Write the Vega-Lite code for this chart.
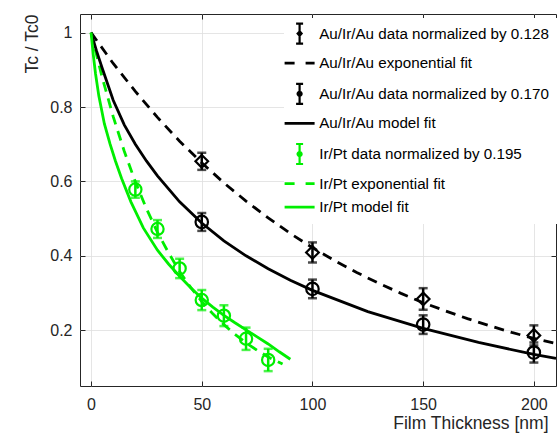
{
  "$schema": "https://vega.github.io/schema/vega-lite/v6.json",
  "width": 476,
  "height": 372,
  "autosize": "none",
  "padding": {"left": 80, "top": 14, "right": 3, "bottom": 48},
  "background": "white",
  "config": {
    "font": "Liberation Sans",
    "view": {"stroke": "#262626", "strokeWidth": 1},
    "axis": {
      "labelFont": "Liberation Sans",
      "titleFont": "Liberation Sans",
      "labelFontSize": 16,
      "titleFontSize": 17.5,
      "titleFontWeight": "normal",
      "labelColor": "#262626",
      "titleColor": "#262626",
      "gridColor": "#dedede",
      "gridWidth": 0.8,
      "domain": false,
      "tickColor": "#262626",
      "tickWidth": 1,
      "tickSize": -5
    },
    "legend": {
      "labelFont": "Liberation Sans",
      "labelFontSize": 15.2,
      "labelColor": "#000000",
      "labelLimit": 400
    }
  },
  "datasets": {
    "curves": [
      {"series": "Au/Ir/Au exponential fit", "x": 0, "y": 1},
      {"series": "Au/Ir/Au exponential fit", "x": 10, "y": 0.917},
      {"series": "Au/Ir/Au exponential fit", "x": 20, "y": 0.842},
      {"series": "Au/Ir/Au exponential fit", "x": 30, "y": 0.772},
      {"series": "Au/Ir/Au exponential fit", "x": 40, "y": 0.708},
      {"series": "Au/Ir/Au exponential fit", "x": 50, "y": 0.65},
      {"series": "Au/Ir/Au exponential fit", "x": 60, "y": 0.596},
      {"series": "Au/Ir/Au exponential fit", "x": 70, "y": 0.547},
      {"series": "Au/Ir/Au exponential fit", "x": 80, "y": 0.502},
      {"series": "Au/Ir/Au exponential fit", "x": 90, "y": 0.46},
      {"series": "Au/Ir/Au exponential fit", "x": 100, "y": 0.422},
      {"series": "Au/Ir/Au exponential fit", "x": 110, "y": 0.387},
      {"series": "Au/Ir/Au exponential fit", "x": 120, "y": 0.355},
      {"series": "Au/Ir/Au exponential fit", "x": 130, "y": 0.326},
      {"series": "Au/Ir/Au exponential fit", "x": 140, "y": 0.299},
      {"series": "Au/Ir/Au exponential fit", "x": 150, "y": 0.274},
      {"series": "Au/Ir/Au exponential fit", "x": 160, "y": 0.252},
      {"series": "Au/Ir/Au exponential fit", "x": 170, "y": 0.231},
      {"series": "Au/Ir/Au exponential fit", "x": 180, "y": 0.212},
      {"series": "Au/Ir/Au exponential fit", "x": 190, "y": 0.194},
      {"series": "Au/Ir/Au exponential fit", "x": 200, "y": 0.178},
      {"series": "Au/Ir/Au exponential fit", "x": 210, "y": 0.164},
      {"series": "Au/Ir/Au model fit", "x": 0, "y": 1},
      {"series": "Au/Ir/Au model fit", "x": 2.5, "y": 0.95},
      {"series": "Au/Ir/Au model fit", "x": 5, "y": 0.905},
      {"series": "Au/Ir/Au model fit", "x": 10, "y": 0.818},
      {"series": "Au/Ir/Au model fit", "x": 15, "y": 0.752},
      {"series": "Au/Ir/Au model fit", "x": 20, "y": 0.7},
      {"series": "Au/Ir/Au model fit", "x": 25, "y": 0.655},
      {"series": "Au/Ir/Au model fit", "x": 30, "y": 0.615},
      {"series": "Au/Ir/Au model fit", "x": 40, "y": 0.545},
      {"series": "Au/Ir/Au model fit", "x": 50, "y": 0.488},
      {"series": "Au/Ir/Au model fit", "x": 60, "y": 0.44},
      {"series": "Au/Ir/Au model fit", "x": 70, "y": 0.4},
      {"series": "Au/Ir/Au model fit", "x": 80, "y": 0.365},
      {"series": "Au/Ir/Au model fit", "x": 90, "y": 0.334},
      {"series": "Au/Ir/Au model fit", "x": 100, "y": 0.307},
      {"series": "Au/Ir/Au model fit", "x": 125, "y": 0.25},
      {"series": "Au/Ir/Au model fit", "x": 150, "y": 0.205},
      {"series": "Au/Ir/Au model fit", "x": 175, "y": 0.167},
      {"series": "Au/Ir/Au model fit", "x": 200, "y": 0.135},
      {"series": "Au/Ir/Au model fit", "x": 210, "y": 0.124},
      {"series": "Ir/Pt exponential fit", "x": 0, "y": 1},
      {"series": "Ir/Pt exponential fit", "x": 5, "y": 0.88},
      {"series": "Ir/Pt exponential fit", "x": 10, "y": 0.774},
      {"series": "Ir/Pt exponential fit", "x": 15, "y": 0.681},
      {"series": "Ir/Pt exponential fit", "x": 20, "y": 0.599},
      {"series": "Ir/Pt exponential fit", "x": 25, "y": 0.527},
      {"series": "Ir/Pt exponential fit", "x": 30, "y": 0.463},
      {"series": "Ir/Pt exponential fit", "x": 35, "y": 0.408},
      {"series": "Ir/Pt exponential fit", "x": 40, "y": 0.358},
      {"series": "Ir/Pt exponential fit", "x": 45, "y": 0.315},
      {"series": "Ir/Pt exponential fit", "x": 50, "y": 0.277},
      {"series": "Ir/Pt exponential fit", "x": 55, "y": 0.244},
      {"series": "Ir/Pt exponential fit", "x": 60, "y": 0.215},
      {"series": "Ir/Pt exponential fit", "x": 65, "y": 0.189},
      {"series": "Ir/Pt exponential fit", "x": 70, "y": 0.166},
      {"series": "Ir/Pt exponential fit", "x": 75, "y": 0.146},
      {"series": "Ir/Pt exponential fit", "x": 80, "y": 0.128},
      {"series": "Ir/Pt exponential fit", "x": 86.5, "y": 0.109},
      {"series": "Ir/Pt model fit", "x": 0, "y": 1},
      {"series": "Ir/Pt model fit", "x": 1, "y": 0.94},
      {"series": "Ir/Pt model fit", "x": 2, "y": 0.89},
      {"series": "Ir/Pt model fit", "x": 3.5, "y": 0.83},
      {"series": "Ir/Pt model fit", "x": 6, "y": 0.755},
      {"series": "Ir/Pt model fit", "x": 8.6, "y": 0.7},
      {"series": "Ir/Pt model fit", "x": 11, "y": 0.655},
      {"series": "Ir/Pt model fit", "x": 13.8, "y": 0.608},
      {"series": "Ir/Pt model fit", "x": 18, "y": 0.545},
      {"series": "Ir/Pt model fit", "x": 23.6, "y": 0.475},
      {"series": "Ir/Pt model fit", "x": 30, "y": 0.415},
      {"series": "Ir/Pt model fit", "x": 35, "y": 0.378},
      {"series": "Ir/Pt model fit", "x": 40, "y": 0.345},
      {"series": "Ir/Pt model fit", "x": 45, "y": 0.314},
      {"series": "Ir/Pt model fit", "x": 50, "y": 0.286},
      {"series": "Ir/Pt model fit", "x": 55, "y": 0.262},
      {"series": "Ir/Pt model fit", "x": 60, "y": 0.24},
      {"series": "Ir/Pt model fit", "x": 65, "y": 0.22},
      {"series": "Ir/Pt model fit", "x": 70, "y": 0.201},
      {"series": "Ir/Pt model fit", "x": 75, "y": 0.182},
      {"series": "Ir/Pt model fit", "x": 80, "y": 0.163},
      {"series": "Ir/Pt model fit", "x": 85, "y": 0.142},
      {"series": "Ir/Pt model fit", "x": 90, "y": 0.122}
    ],
    "points": [
      {"series": "Au/Ir/Au data normalized by 0.128", "x": 50, "y": 0.654, "lo": 0.631, "hi": 0.677},
      {"series": "Au/Ir/Au data normalized by 0.128", "x": 100, "y": 0.409, "lo": 0.382, "hi": 0.436},
      {"series": "Au/Ir/Au data normalized by 0.128", "x": 150, "y": 0.284, "lo": 0.255, "hi": 0.313},
      {"series": "Au/Ir/Au data normalized by 0.128", "x": 200, "y": 0.186, "lo": 0.159, "hi": 0.213},
      {"series": "Au/Ir/Au data normalized by 0.170", "x": 50, "y": 0.491, "lo": 0.467, "hi": 0.515},
      {"series": "Au/Ir/Au data normalized by 0.170", "x": 100, "y": 0.311, "lo": 0.286, "hi": 0.336},
      {"series": "Au/Ir/Au data normalized by 0.170", "x": 150, "y": 0.215, "lo": 0.19, "hi": 0.24},
      {"series": "Au/Ir/Au data normalized by 0.170", "x": 200, "y": 0.14, "lo": 0.113, "hi": 0.167},
      {"series": "Ir/Pt data normalized by 0.195", "x": 20, "y": 0.578, "lo": 0.556, "hi": 0.6},
      {"series": "Ir/Pt data normalized by 0.195", "x": 30, "y": 0.472, "lo": 0.448, "hi": 0.496},
      {"series": "Ir/Pt data normalized by 0.195", "x": 40, "y": 0.366, "lo": 0.34, "hi": 0.392},
      {"series": "Ir/Pt data normalized by 0.195", "x": 50, "y": 0.281, "lo": 0.254, "hi": 0.308},
      {"series": "Ir/Pt data normalized by 0.195", "x": 60, "y": 0.239, "lo": 0.211, "hi": 0.267},
      {"series": "Ir/Pt data normalized by 0.195", "x": 70, "y": 0.177, "lo": 0.147, "hi": 0.207},
      {"series": "Ir/Pt data normalized by 0.195", "x": 80, "y": 0.12, "lo": 0.09, "hi": 0.15}
    ]
  },
  "resolve": {"axis": {"x": "independent", "y": "independent"}},
  "layer": [
    {
      "data": {"name": "curves"},
      "transform": [{"filter": "test(/exponential/, datum.series)"}],
      "mark": {"type": "line", "strokeDash": [10, 7], "strokeWidth": 2.8},
      "encoding": {
        "x": {"field": "x", "type": "quantitative", "scale": {"domain": [-5, 210], "nice": false, "zero": false},
          "axis": {"orient": "bottom", "values": [0, 50, 100, 150, 200], "title": "Film Thickness [nm]", "titleAlign": "right", "titleX": 468, "titlePadding": 2, "labelPadding": 15, "grid": true}},
        "y": {"field": "y", "type": "quantitative", "scale": {"domain": [0.05, 1.05], "nice": false, "zero": false},
          "axis": {"orient": "left", "values": [0.2, 0.4, 0.6, 0.8, 1], "format": "~g", "title": "Tc / Tc0", "titleAnchor": "end", "titlePadding": 8, "labelPadding": 13, "grid": true}},
        "color": {"field": "series", "type": "nominal",
          "scale": {"domain": ["Au/Ir/Au data normalized by 0.128", "Au/Ir/Au exponential fit", "Au/Ir/Au data normalized by 0.170", "Au/Ir/Au model fit", "Ir/Pt data normalized by 0.195", "Ir/Pt exponential fit", "Ir/Pt model fit"],
                    "range": ["#000000", "#000000", "#000000", "#000000", "#00ee00", "#00ee00", "#00ee00"]},
          "legend": {
            "title": null, "orient": "none", "legendX": 204, "legendY": 4,
            "fillColor": "white", "padding": 8, "rowPadding": 7.6, "labelOffset": 12, "symbolSize": 100,
            "encode": {"symbols": {"update": {
              "shape": {"signal": "datum.value === 'Au/Ir/Au data normalized by 0.128' ? 'M0,-2V2M-0.7,-2H0.7M-0.7,2H0.7M0,-0.45L0.4,0L0,0.45L-0.4,0Z' : (test(/data/, datum.value) ? 'M0,-2V2M-0.7,-2H0.7M-0.7,2H0.7M-0.4,0A0.4,0.4 0 1,0 0.4,0A0.4,0.4 0 1,0 -0.4,0Z' : 'M-3,0H3')"},
              "strokeDash": {"signal": "test(/exponential/, datum.value) ? [10, 11] : [1, 0]"},
              "strokeWidth": {"signal": "test(/fit/, datum.value) ? 2.8 : 2.2"},
              "stroke": {"scale": "color", "field": "value"},
              "fill": {"value": "transparent"},
              "size": {"value": 100},
              "opacity": {"value": 1}
            }}}
          }}
      }
    },
    {
      "data": {"name": "curves"},
      "transform": [{"filter": "test(/model/, datum.series)"}],
      "mark": {"type": "line", "strokeWidth": 2.8},
      "encoding": {
        "x": {"field": "x", "type": "quantitative",
          "axis": {"orient": "top", "values": [0, 50, 100, 150, 200], "labels": false, "title": null, "grid": false}},
        "y": {"field": "y", "type": "quantitative",
          "axis": {"orient": "right", "values": [0.2, 0.4, 0.6, 0.8, 1], "labels": false, "title": null, "grid": false}},
        "color": {"field": "series", "type": "nominal"}
      }
    },
    {
      "data": {"name": "points"},
      "mark": {"type": "rule", "strokeWidth": 2.5},
      "encoding": {
        "x": {"field": "x", "type": "quantitative", "axis": null},
        "y": {"field": "lo", "type": "quantitative", "axis": null},
        "y2": {"field": "hi"},
        "color": {"field": "series", "type": "nominal"}
      }
    },
    {
      "data": {"name": "points"},
      "mark": {"type": "tick", "orient": "horizontal", "size": 9, "thickness": 2.5},
      "encoding": {
        "x": {"field": "x", "type": "quantitative", "axis": null},
        "y": {"field": "lo", "type": "quantitative", "axis": null},
        "color": {"field": "series", "type": "nominal"}
      }
    },
    {
      "data": {"name": "points"},
      "mark": {"type": "tick", "orient": "horizontal", "size": 9, "thickness": 2.5},
      "encoding": {
        "x": {"field": "x", "type": "quantitative", "axis": null},
        "y": {"field": "hi", "type": "quantitative", "axis": null},
        "color": {"field": "series", "type": "nominal"}
      }
    },
    {
      "data": {"name": "points"},
      "mark": {"type": "point", "filled": false, "strokeWidth": 2.2, "opacity": 1},
      "encoding": {
        "x": {"field": "x", "type": "quantitative", "axis": null},
        "y": {"field": "y", "type": "quantitative", "axis": null},
        "color": {"field": "series", "type": "nominal"},
        "shape": {"field": "series", "type": "nominal", "legend": null,
          "scale": {"domain": ["Au/Ir/Au data normalized by 0.128", "Au/Ir/Au data normalized by 0.170", "Ir/Pt data normalized by 0.195"], "range": ["diamond", "circle", "circle"]}},
        "size": {"field": "series", "type": "nominal", "legend": null,
          "scale": {"domain": ["Au/Ir/Au data normalized by 0.128", "Au/Ir/Au data normalized by 0.170", "Ir/Pt data normalized by 0.195"], "range": [160, 150, 110]}}
      }
    }
  ]
}
